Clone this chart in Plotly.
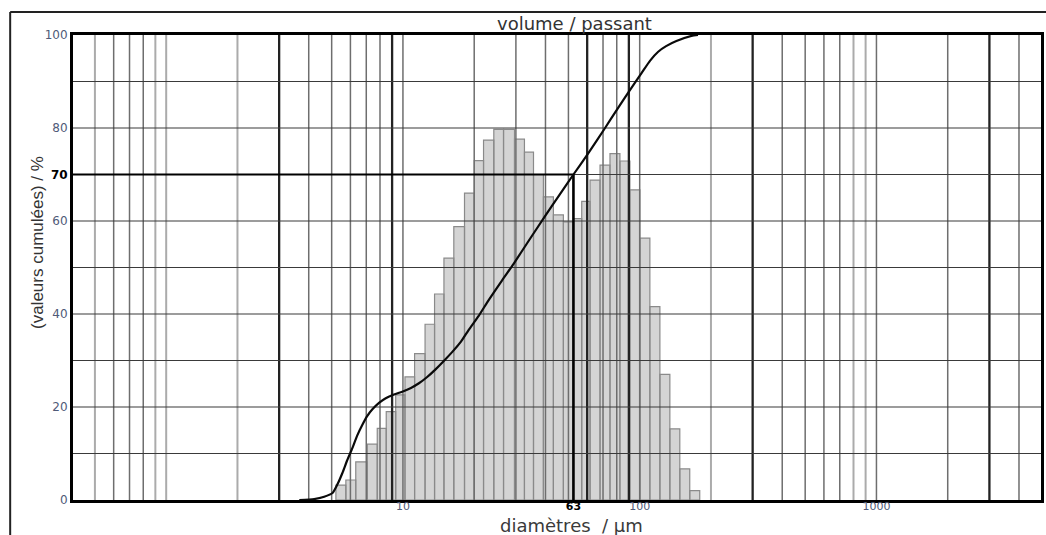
import math
import plotly.graph_objects as go

# ---------------- data ----------------
# histogram bin edges (µm) and bar heights (%)
bin_edges = [5.21, 5.74, 6.32, 7.07, 7.79, 8.50, 9.32, 10.2, 11.2, 12.4, 13.6,
             14.9, 16.4, 18.2, 20.0, 21.9, 24.2, 26.6, 29.6, 32.6, 35.6, 39.2,
             43.2, 47.6, 52.5, 56.9, 61.7, 68.0, 74.9, 82.5, 90.9, 100.2,
             110.4, 121.7, 134.1, 147.7, 162.7, 179.3]
bar_heights = [3.2, 4.3, 8.2, 12.0, 15.4, 19.0, 22.6, 26.5, 31.5, 37.8, 44.3,
               52.0, 58.8, 66.0, 73.0, 77.4, 79.7, 79.7, 77.6, 74.8, 70.0, 65.2,
               61.3, 59.8, 60.5, 64.2, 68.8, 72.0, 74.5, 72.9, 66.7, 56.3, 41.6,
               27.0, 15.3, 6.7, 2.0]

# cumulative passing curve
cum_d = [3.65, 4.22, 4.65, 5.04, 5.27, 5.55, 5.81, 6.12, 6.40, 6.74, 7.05,
         7.43, 7.92, 8.46, 9.17, 9.93, 10.81, 11.68, 12.62, 13.73, 14.88,
         16.13, 17.55, 18.96, 20.89, 23.02, 26.19, 29.34, 33.93, 39.89,
         45.38, 52.5, 60.7, 71.4, 81.2, 89.45, 101.8, 110.7, 119.7, 129.3,
         142.9, 165.3, 176.3]
cum_pct = [0.0, 0.2, 0.7, 1.5, 3.2, 5.8, 8.5, 11.2, 13.8, 16.2, 18.0,
           19.5, 20.9, 21.9, 22.7, 23.3, 24.1, 25.1, 26.4, 28.1, 29.9,
           31.8, 34.0, 36.6, 39.6, 43.0, 47.2, 50.8, 55.7, 61.1,
           65.3, 70.0, 74.6, 80.0, 84.4, 87.6, 91.8, 94.5, 96.4, 97.6,
           98.7, 99.8, 100.0]

# marked point (d70)
mark_d = 52.5
mark_label = "63"
mark_pct = 70

# axis extents
x_min, x_max = 0.404, 4955
y_min, y_max = 0, 100

# tick values / labels
x_tickvals = [10, mark_d, 100, 1000]
x_ticklabels = ["10", mark_label, "100", "1000"]
y_tickvals = [0, 20, 40, 60, 70, 80, 100]
y_ticklabels = ["0", "20", "40", "60", "70", "80", "100"]

# vertical grid values grouped by drawing strength
grid_dark = [3, 9, 60, 90, 300, 3000]
grid_mid = [0.6, 0.7, 0.8, 4, 5, 6, 7, 8, 10, 20, 30, 40, 50, 70, 80, 100,
            400, 500, 600, 700, 1000, 2000, 4000]
grid_light = [0.5, 0.9, 1, 2, 200, 800, 900]
grid_h = [10, 20, 30, 40, 50, 60, 70, 80, 90]

# ---------------- figure ----------------
TICK_COL = "#4f5a78"
FONT = "DejaVu Sans"

fig = go.Figure()

# histogram bars as closed rectangles in data coordinates
bx, by = [], []
for left, right, h in zip(bin_edges[:-1], bin_edges[1:], bar_heights):
    bx += [left, right, right, left, left, None]
    by += [0, 0, h, h, 0, None]
fig.add_trace(go.Scatter(x=bx, y=by, mode="lines", fill="toself",
                         fillcolor="#d4d4d4",
                         line=dict(color="#8a8a8a", width=1.2),
                         hoverinfo="skip"))


def vlines(vals):
    xs, ys = [], []
    for v in vals:
        xs += [v, v, None]
        ys += [y_min, y_max, None]
    return xs, ys


for vals, col, w in [(grid_light, "#ababab", 2.0),
                     (grid_mid, "#6e6e6e", 1.5),
                     (grid_dark, "#222222", 2.3)]:
    xs, ys = vlines(vals)
    fig.add_trace(go.Scatter(x=xs, y=ys, mode="lines",
                             line=dict(color=col, width=w), hoverinfo="skip"))

hx, hy = [], []
for v in grid_h:
    hx += [x_min, x_max, None]
    hy += [v, v, None]
fig.add_trace(go.Scatter(x=hx, y=hy, mode="lines",
                         line=dict(color="#3a3a3a", width=1.2), hoverinfo="skip"))

# d70 marker lines
fig.add_trace(go.Scatter(x=[x_min, mark_d], y=[mark_pct, mark_pct], mode="lines",
                         line=dict(color="#000000", width=2.2), hoverinfo="skip"))
fig.add_trace(go.Scatter(x=[mark_d, mark_d], y=[y_min, mark_pct], mode="lines",
                         line=dict(color="#000000", width=2.6), hoverinfo="skip"))

# cumulative curve
fig.add_trace(go.Scatter(x=cum_d, y=cum_pct, mode="lines",
                         line=dict(color="#0a0a0a", width=2.2, shape="spline",
                                   smoothing=0.6),
                         hoverinfo="skip"))


def styled(labels, special):
    out = []
    for t in labels:
        if t == special:
            out.append('<span style="color:#000000"><b>%s</b></span>' % t)
        else:
            out.append(t)
    return out


fig.update_layout(
    width=1046, height=535,
    margin=dict(l=73, r=2, t=35, b=35),
    paper_bgcolor="white", plot_bgcolor="white",
    showlegend=False,
    font=dict(family=FONT, color=TICK_COL, size=12),
    xaxis=dict(type="log", range=[math.log10(x_min), math.log10(x_max)],
               showgrid=False, zeroline=False, ticks="",
               tickvals=x_tickvals, ticktext=styled(x_ticklabels, mark_label),
               tickfont=dict(family=FONT, size=11, color=TICK_COL),
               ticklabelstandoff=-6,
               showline=True, mirror=True, linecolor="#000000", linewidth=3),
    yaxis=dict(range=[y_min, y_max], showgrid=False, zeroline=False, ticks="",
               tickvals=y_tickvals, ticktext=styled(y_ticklabels, "70"),
               tickfont=dict(family=FONT, size=12, color=TICK_COL),
               showline=True, mirror=True, linecolor="#000000", linewidth=3),
)

# outer frame lines (paper coordinates)
fig.add_shape(type="line", xref="paper", yref="paper",
              x0=-0.0649, x1=1.01, y0=1.0495, y1=1.0495,
              line=dict(color="#222222", width=2))
fig.add_shape(type="line", xref="paper", yref="paper",
              x0=-0.0649, x1=-0.0649, y0=1.0495, y1=-0.1,
              line=dict(color="#222222", width=2))

# titles
fig.add_annotation(text="volume / passant", xref="paper", yref="paper",
                   x=0.518, y=1.0245, showarrow=False,
                   xanchor="center", yanchor="middle",
                   font=dict(family=FONT, size=18, color="#333333"))
fig.add_annotation(text="diamètres  / µm", xref="paper", yref="paper",
                   x=0.515, y=-0.0545, showarrow=False,
                   xanchor="center", yanchor="middle",
                   font=dict(family=FONT, size=18, color="#3a3a3a"))
fig.add_annotation(text="(valeurs cumulées) / %", xref="paper", yref="paper",
                   x=-0.036, y=0.553, showarrow=False, textangle=-90,
                   xanchor="center", yanchor="middle",
                   font=dict(family="Liberation Sans", size=17, color="#333333"))

fig.write_html("out.html")
